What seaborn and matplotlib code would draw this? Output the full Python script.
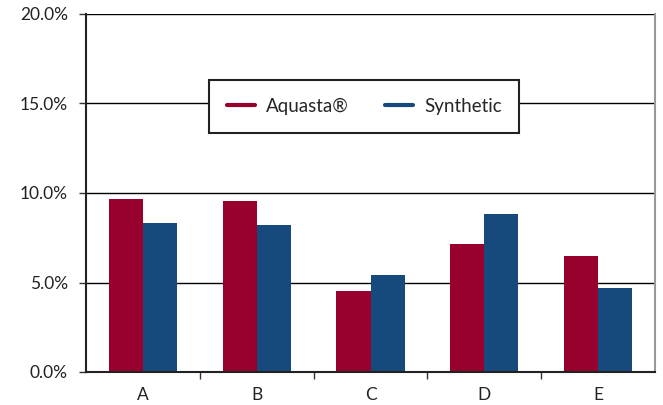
import matplotlib
matplotlib.use("Agg")
import matplotlib.pyplot as plt
import seaborn as sns
import pandas as pd
from matplotlib.lines import Line2D
from matplotlib.ticker import FuncFormatter, FixedLocator

categories = ["A", "B", "C", "D", "E"]
aquasta = [9.66, 9.55, 4.52, 7.15, 6.48]
synthetic = [8.32, 8.21, 5.42, 8.83, 4.69]
series_names = ["Aquasta®", "Synthetic"]
colors = ["#98002E", "#174A7C"]

df = pd.DataFrame({
    "cat": categories * 2,
    "val": aquasta + synthetic,
    "series": [series_names[0]] * 5 + [series_names[1]] * 5,
})

sns.set_theme(style="white")
plt.rcParams["font.family"] = ["Lato", "DejaVu Sans"]

fig = plt.figure(figsize=(6.63, 4.05), dpi=100)
ax = fig.add_axes([86/663, 33/405, (655-86)/663, (372-14)/405])

sns.barplot(data=df, x="cat", y="val", hue="series", palette=colors,
            width=0.6, saturation=1, ax=ax, legend=False, errorbar=None,
            linewidth=0, edgecolor="none")

ax.set_ylim(0, 20)
ax.set_xlim(-0.5, 4.5)
ax.set_yticks([0, 5, 10, 15, 20])
ax.yaxis.set_major_formatter(FuncFormatter(lambda v, p: f"{v:.1f}%"))
ax.yaxis.grid(True, color="black", linewidth=1.0)
ax.set_axisbelow(True)
ax.set_xlabel("")
ax.set_ylabel("")

ax.tick_params(axis="y", which="major", direction="out", length=5, width=1,
               color="#333333", labelsize=12.5, labelcolor="#222222", pad=8, left=True)
ax.tick_params(axis="x", which="major", length=0, labelsize=12.5, labelcolor="#222222", pad=11)
ax.xaxis.set_minor_locator(FixedLocator([0.5, 1.5, 2.5, 3.5]))
ax.tick_params(axis="x", which="minor", direction="out", length=5, width=1,
               color="#333333", bottom=True)

for s in ["left", "bottom"]:
    ax.spines[s].set_color("#222222")
    ax.spines[s].set_linewidth(1.5)
ax.spines["right"].set_color("#999999")
ax.spines["right"].set_linewidth(1.5)
ax.spines["top"].set_visible(False)

handles = [Line2D([0], [0], color=c, linewidth=3) for c in colors]
leg = ax.legend(handles, series_names, loc="center", bbox_to_anchor=(0.489, 0.742),
                ncol=2, fontsize=13.5, frameon=True, fancybox=False, framealpha=1,
                edgecolor="#222222", handlelength=1.5, columnspacing=1.9,
                handletextpad=0.6, borderpad=0.95, borderaxespad=0)
leg.get_frame().set_linewidth(1.5)

fig.savefig("out.png", dpi=100)
